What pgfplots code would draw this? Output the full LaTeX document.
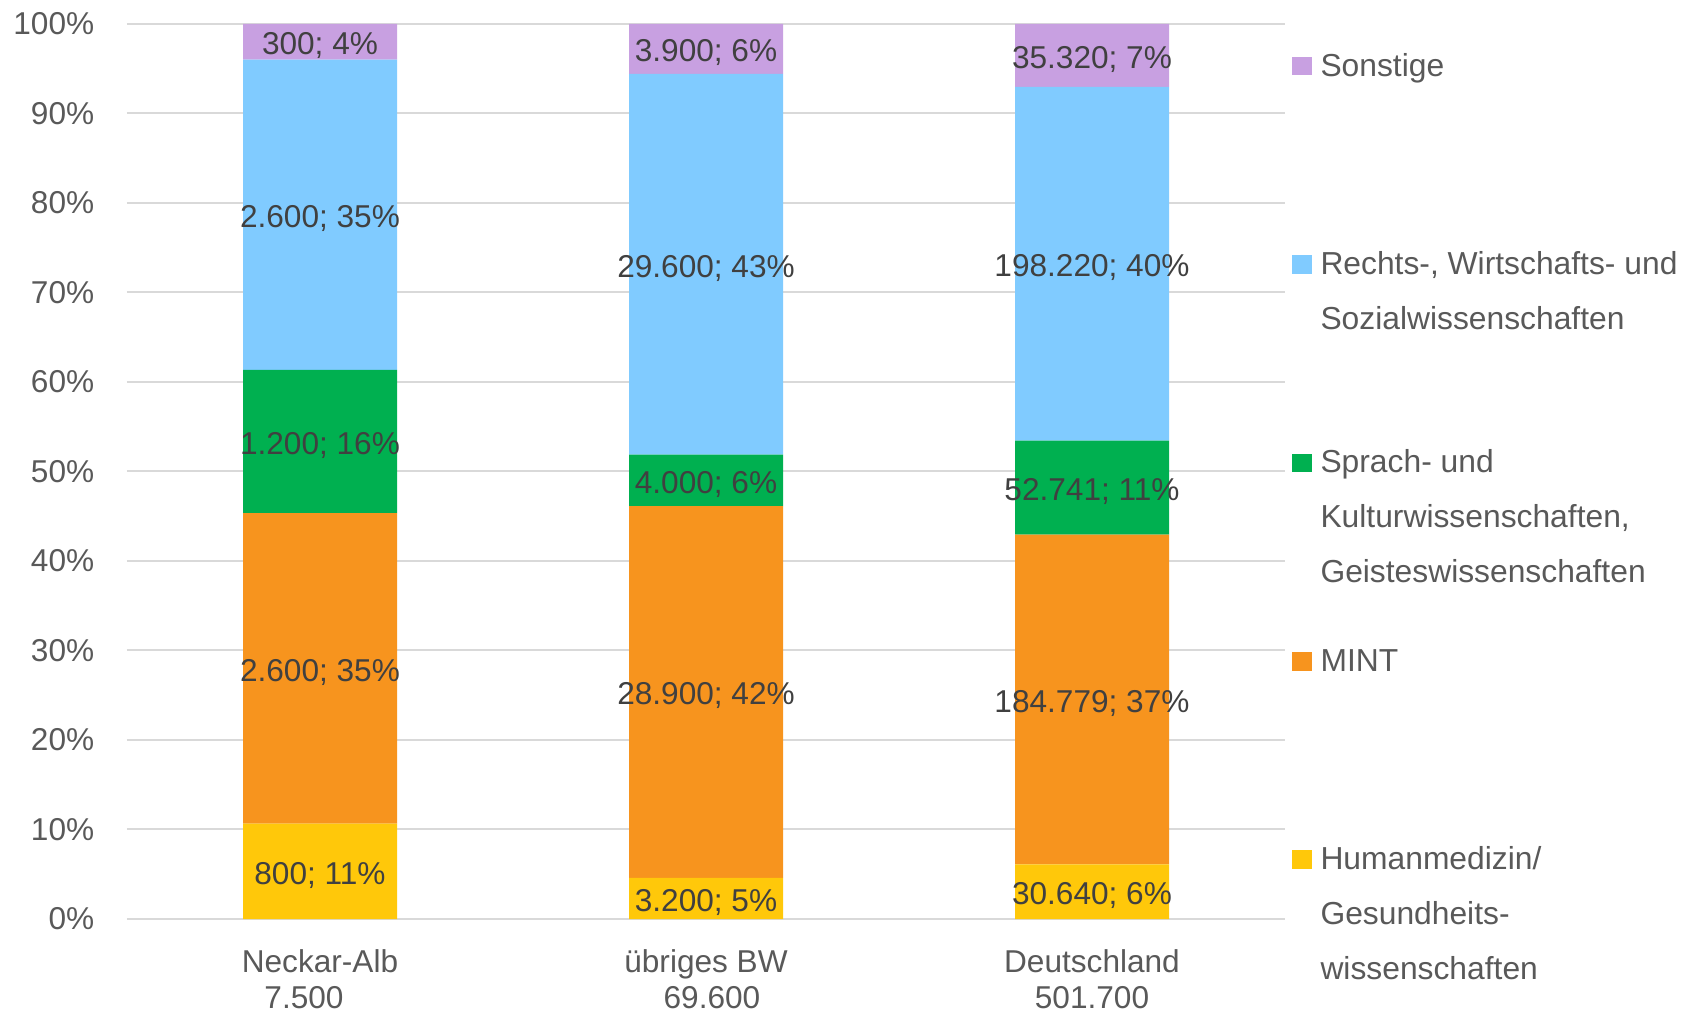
\documentclass[border=0pt]{standalone}
\usepackage{fontspec}
\setmainfont{Liberation Sans}
\usepackage{pgfplots}
\usepackage{pgfplotstable}
\pgfplotsset{compat=1.18}

\definecolor{cSon}{HTML}{C8A0E1}
\definecolor{cRec}{HTML}{80CBFF}
\definecolor{cSpr}{HTML}{00B050}
\definecolor{cMin}{HTML}{F7941E}
\definecolor{cHum}{HTML}{FFC80A}
\definecolor{tickgray}{HTML}{595959}
\definecolor{labgray}{HTML}{404040}
\definecolor{gridgray}{HTML}{D9D9D9}

\protected\def\semi{;}

\pgfplotsset{
  mylegend/.style={legend image code/.code={\fill[##1] (0pt,0.35pt) rectangle (10pt,9.7pt);}},
  commonaxis/.style={
    scale only axis, width=579pt, height=447.6pt,
    xmin=-0.5, xmax=2.5, ymin=0, ymax=100,
  }
}

% shares in percent of each column total (7.500 / 69.600 / 501.700)
\pgfplotstableread{
x hum mint sprach rechts sonst
0 10.6667 34.6667 16.0000 34.6667 4.0000
1 4.5977 41.5230 5.7471 42.5287 5.6034
2 6.1072 36.8306 10.5125 39.5096 7.0400
}\shares

\newcommand{\fs}{\fontsize{15.8}{18}\selectfont}

\begin{document}
\begin{tikzpicture}
\begin{axis}[commonaxis,
  ybar stacked, bar width=77pt,
  axis line style={draw=none},
  ytick={0,10,...,100},
  yticklabels={0\%,10\%,20\%,30\%,40\%,50\%,60\%,70\%,80\%,90\%,100\%},
  yticklabel style={anchor=east, inner sep=0pt, xshift=-16.2pt, font=\fs, text=tickgray},
  xtick={0,1,2},
  xticklabels={
    {\parbox[t]{150pt}{\centering Neckar-Alb\\7.500\rule{16pt}{0pt}}},
    {\parbox[t]{150pt}{\centering übriges BW\\\rule{6pt}{0pt}69.600}},
    {\parbox[t]{150pt}{\centering Deutschland\\501.700}}},
  xticklabel style={anchor=base, inner sep=0pt, yshift=-26.8pt, font=\fs, text=tickgray},
  major tick length=0pt,
  ymajorgrids, grid style={gridgray, line width=1pt},
  reverse legend,
  legend style={draw=none, fill=none, at={(1,1)}, anchor=north west,
    xshift=3.25pt, yshift=-14pt, inner sep=0pt, row sep=0pt, column sep=4.3pt,
    font=\fontsize{15.9}{27.3}\selectfont, text=tickgray,
    cells={anchor=base west},
    nodes={inner sep=0pt, text height=12pt, text depth=87.2pt}},
]
\addplot[fill=cHum, draw=none, mylegend] table[x=x, y=hum]{\shares};
\addlegendentry{\parbox[t]{220pt}{Humanmedizin/\\Gesundheits-\\wissenschaften}}
\addplot[fill=cMin, draw=none, mylegend] table[x=x, y=mint]{\shares};
\addlegendentry{\parbox[t]{220pt}{MINT}}
\addplot[fill=cSpr, draw=none, mylegend] table[x=x, y=sprach]{\shares};
\addlegendentry{\parbox[t]{220pt}{Sprach- und\\Kulturwissenschaften,\\Geisteswissenschaften}}
\addplot[fill=cRec, draw=none, mylegend] table[x=x, y=rechts]{\shares};
\addlegendentry{\parbox[t]{220pt}{Rechts-, Wirtschafts- und\\Sozialwissenschaften}}
\addplot[fill=cSon, draw=none, mylegend] table[x=x, y=sonst]{\shares};
\addlegendentry{\parbox[t]{220pt}{Sonstige}}
\end{axis}

\begin{axis}[commonaxis, hide axis, clip=false]
\addplot[draw=none, mark=none, nodes near coords, point meta=explicit symbolic,
  every node near coord/.append style={anchor=center, inner sep=0pt, yshift=-2pt, font=\fs, text=labgray}]
  table[col sep=comma, row sep=\\, meta=label]{
  x,y,label\\
  0,5.3333,800\semi{} 11\%\\
  0,28.0000,2.600\semi{} 35\%\\
  0,53.3333,1.200\semi{} 16\%\\
  0,78.6667,2.600\semi{} 35\%\\
  0,98.0000,300\semi{} 4\%\\
  1,2.2989,3.200\semi{} 5\%\\
  1,25.3592,28.900\semi{} 42\%\\
  1,48.9943,4.000\semi{} 6\%\\
  1,73.1322,29.600\semi{} 43\%\\
  1,97.1983,3.900\semi{} 6\%\\
  2,3.0536,30.640\semi{} 6\%\\
  2,24.5225,184.779\semi{} 37\%\\
  2,48.1941,52.741\semi{} 11\%\\
  2,73.2051,198.220\semi{} 40\%\\
  2,96.4800,35.320\semi{} 7\%\\
  };
\end{axis}
\pgfresetboundingbox
\path (current axis.south west) ++(-63.5pt,-48.5pt) rectangle ++(845pt,508pt);
\end{tikzpicture}
\end{document}
